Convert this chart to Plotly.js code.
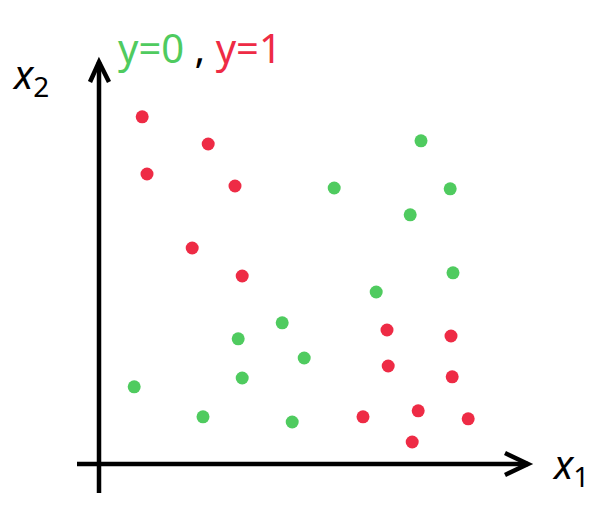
<!DOCTYPE html>
<html>
<head>
<meta charset="utf-8">
<script src="https://cdn.plot.ly/plotly-3.0.1.min.js"></script>
<style>html,body{margin:0;padding:0;background:#fff;}#chart{width:602px;height:511px;}</style>
</head>
<body>
<div id="chart"></div>
<script>
// Class y=0 (green) points
var greenX1 = [8.05, 5.88, 8.78, 7.78, 8.85, 6.93, 4.58, 3.48, 5.13, 3.58, 0.88, 2.60, 4.83];
var greenX2 = [8.08, 6.90, 6.88, 6.23, 4.78, 4.30, 3.53, 3.13, 2.65, 2.15, 1.93, 1.18, 1.05];
// Class y=1 (red) points
var redX1 = [1.08, 2.73, 1.20, 3.40, 2.33, 3.58, 7.20, 8.80, 7.23, 8.83, 6.60, 7.98, 9.23, 7.83];
var redX2 = [8.68, 8.00, 7.25, 6.95, 5.40, 4.70, 3.35, 3.20, 2.45, 2.18, 1.18, 1.33, 1.13, 0.55];

var GREEN = '#4fcb5f';
var RED = '#ee2b45';

var traces = [
  {x: greenX1, y: greenX2, mode: 'markers', type: 'scatter', name: 'y=0',
   marker: {color: GREEN, size: 13}},
  {x: redX1, y: redX2, mode: 'markers', type: 'scatter', name: 'y=1',
   marker: {color: RED, size: 13}}
];

var lw = 4.5;
var layout = {
  width: 602, height: 511,
  margin: {l: 0, r: 0, t: 0, b: 0},
  paper_bgcolor: '#fff', plot_bgcolor: '#fff',
  showlegend: false,
  xaxis: {range: [-2.475, 12.575], visible: false, fixedrange: true},
  yaxis: {range: [-1.175, 11.6], visible: false, fixedrange: true},
  shapes: [
    {type: 'line', xref: 'x', yref: 'y', x0: 0, y0: -0.725, x1: 0, y1: 10.05, line: {color: '#000', width: lw}},
    {type: 'path', xref: 'x', yref: 'y', path: 'M -0.225 9.55 L 0 10.05 L 0.25 9.55', line: {color: '#000', width: lw}},
    {type: 'line', xref: 'x', yref: 'y', x0: -0.55, y0: 0, x1: 10.725, y1: 0, line: {color: '#000', width: lw}},
    {type: 'path', xref: 'x', yref: 'y', path: 'M 10.15 0.275 L 10.725 0 L 10.15 -0.275', line: {color: '#000', width: lw}}
  ],
  annotations: [
    {xref: 'paper', yref: 'paper', x: 116/602, y: 1 - 47/511, xanchor: 'left', yanchor: 'middle', showarrow: false,
     text: '<span style="color:' + GREEN + '">y=0</span><span style="color:#000"> , </span><span style="color:' + RED + '">y=1</span>',
     font: {family: 'Noto Sans', size: 40, color: '#000'}},
    {xref: 'paper', yref: 'paper', x: 10/602, y: 1 - 75/511, xanchor: 'left', yanchor: 'middle', showarrow: false,
     text: '<i>x</i><sub>2</sub>', font: {family: 'Noto Sans', size: 40, color: '#000'}},
    {xref: 'paper', yref: 'paper', x: 550/602, y: 1 - 465/511, xanchor: 'left', yanchor: 'middle', showarrow: false,
     text: '<i>x</i><sub>1</sub>', font: {family: 'Noto Sans', size: 40, color: '#000'}}
  ]
};

Plotly.newPlot('chart', traces, layout, {staticPlot: true, displayModeBar: false});
</script>
</body>
</html>
